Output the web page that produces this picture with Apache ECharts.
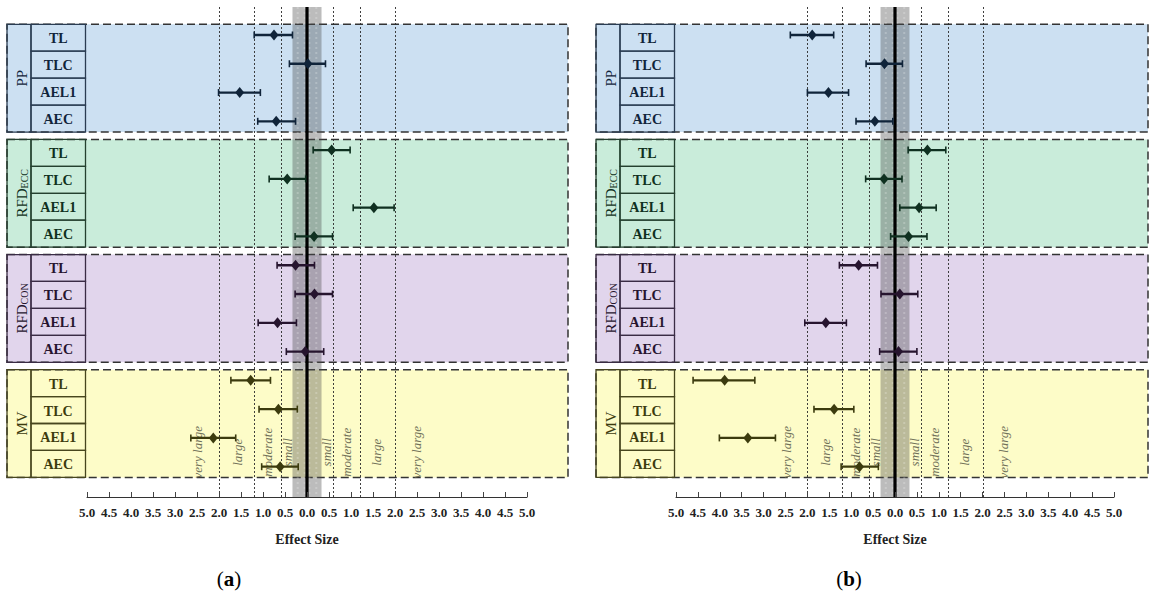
<!DOCTYPE html>
<html>
<head>
<meta charset="utf-8">
<script src="https://cdn.jsdelivr.net/npm/echarts@6/dist/echarts.min.js"></script>
<style>html,body{margin:0;padding:0;background:#fff}#chart{width:1151px;height:599px}</style>
</head>
<body>
<div id="chart"></div>
<script>
// ---------------- data ----------------
const groups = ['PP', 'RFD_ECC', 'RFD_CON', 'MV'];
const measures = ['TL', 'TLC', 'AEL1', 'AEC'];
const tickLabels = ['5.0','4.5','4.0','3.5','3.0','2.5','2.0','1.5','1.0','0.5','0.0','0.5','1.0','1.5','2.0','2.5','3.0','3.5','4.0','4.5','5.0'];
const thresholds = [0.6, 1.2, 2.0];
const trivialBand = 0.33;
const magnitudeNames = ['small', 'moderate', 'large', 'very large'];
const magnitudePos = [0.45, 0.9, 1.58, 2.48];
const panelNames = ['a', 'b'];

// panel (a): rows ordered PP(TL,TLC,AEL1,AEC), RFD_ECC(...), RFD_CON(...), MV(...)
const aEffect = [-0.75, 0.02, -1.53, -0.70,   0.56, -0.45, 1.52, 0.16,   -0.26, 0.17, -0.67, -0.04,   -1.28, -0.65, -2.13, -0.61];
const aLow    = [-1.20, -0.40, -2.01, -1.12,  0.14, -0.86, 1.05, -0.27,  -0.68, -0.27, -1.11, -0.47,  -1.73, -1.09, -2.64, -1.03];
const aHigh   = [-0.33, 0.42, -1.06, -0.26,   0.98, -0.03, 1.98, 0.58,   0.17, 0.58, -0.24, 0.38,     -0.83, -0.22, -1.62, -0.20];

// panel (b)
const bEffect = [-1.89, -0.24, -1.52, -0.46,  0.74, -0.25, 0.55, 0.31,   -0.83, 0.11, -1.58, 0.08,    -3.89, -1.39, -3.36, -0.81];
const bLow    = [-2.39, -0.66, -2.00, -0.89,  0.30, -0.67, 0.11, -0.10,  -1.27, -0.32, -2.06, -0.35,  -4.61, -1.85, -4.01, -1.23];
const bHigh   = [-1.40, 0.17, -1.06, -0.05,   1.16, 0.16, 0.94, 0.73,    -0.40, 0.52, -1.11, 0.50,    -3.20, -0.94, -2.73, -0.38];

// ---------------- styles / layout ----------------
const groupFill = ['#cce0f2', '#c9ecda', '#e1d5ec', '#fdfcc8'];
const groupInk  = ['#10243a', '#0f3020', '#26142e', '#3c3b0e'];
const cellLine  = ['#2a3c52', '#24402f', '#3a2c44', '#47461e'];
const serif = 'Liberation Serif';
const layout = [
  { left: 87,  right: 1151 - 527, boxRight: 481, capX: 229 },
  { left: 676, right: 1151 - 1114, boxRight: 472, capX: 849 }
];
const gridTop = 7, gridBottom = 102;
const yMin = -0.9725, yMax = 16.053;
const boxPad = 0.372;

const effects = [aEffect, bEffect], lows = [aLow, bLow], highs = [aHigh, bHigh];

function frameRender(p) {
  return function (params, api) {
    const g = api.value(0);
    const x0 = params.coordSys.x;
    const top = api.coord([0, 4 * g - boxPad])[1];
    const bot = api.coord([0, 4 * g + 3 + boxPad])[1];
    const h = bot - top;
    const left = x0 - 80, gRight = x0 - 56, iRight = x0 - 1.5, bRight = x0 + layout[p].boxRight;
    const children = [
      { type: 'rect', shape: { x: left, y: top, width: bRight - left, height: h },
        style: { fill: groupFill[g], stroke: '#333', lineWidth: 1.5, lineDash: [8, 4] } },
      { type: 'rect', shape: { x: left, y: top, width: gRight - left, height: h },
        style: { fill: 'none', stroke: cellLine[g], lineWidth: 1.3 } }
    ];
    for (let i = 0; i < 4; i++) {
      children.push({ type: 'rect', shape: { x: gRight, y: top + i * h / 4, width: iRight - gRight, height: h / 4 },
        style: { fill: 'none', stroke: cellLine[g], lineWidth: 1.3 } });
      children.push({ type: 'text', x: (gRight + iRight) / 2, y: top + (i + 0.5) * h / 4 + 1,
        style: { text: measures[i], fill: groupInk[g], fontSize: 14, fontFamily: serif, fontWeight: 'bold',
          align: 'center', verticalAlign: 'middle' } });
    }
    const parts = groups[g].split('_');
    const txt = parts.length > 1 ? '{m|' + parts[0] + '}{s|' + parts[1] + '}' : '{m|' + parts[0] + '}';
    children.push({ type: 'text', x: (left + gRight) / 2 + 1, y: top + h / 2, rotation: Math.PI / 2,
      style: { text: txt, fill: groupInk[g], align: 'center', verticalAlign: 'middle',
        rich: { m: { fontSize: 15, fontFamily: serif, fill: groupInk[g], lineHeight: 18, verticalAlign: 'bottom' },
                s: { fontSize: 10, fontFamily: serif, fill: groupInk[g], lineHeight: 10, verticalAlign: 'bottom' } } } });
    return { type: 'group', children };
  };
}

function guideRender(params, api) {
  const cs = params.coordSys;
  const top = cs.y, bot = cs.y + cs.height;
  const bl = api.coord([-trivialBand, 0])[0], br = api.coord([trivialBand, 0])[0];
  const children = [
    { type: 'rect', shape: { x: bl, y: top, width: br - bl, height: bot - top },
      style: { fill: 'rgba(80,80,80,0.38)' } }
  ];
  [0.18, 0.42, 0.58, 0.82].forEach(f => {
    const x = bl + f * (br - bl);
    children.push({ type: 'line', shape: { x1: x, y1: top, x2: x, y2: bot },
      style: { stroke: 'rgba(255,255,255,0.22)', lineWidth: 2, lineDash: [2, 3] } });
  });
  thresholds.forEach(t => {
    [-1, 1].forEach(s => {
      const x = Math.round(api.coord([s * t, 0])[0]) + 0.5;
      children.push({ type: 'line', shape: { x1: x, y1: top, x2: x, y2: bot },
        style: { stroke: '#2a2a2a', lineWidth: 0.9, lineDash: [2, 2] } });
    });
  });
  const cx = api.coord([0, 0])[0];
  children.push({ type: 'line', shape: { x1: cx, y1: top, x2: cx, y2: bot },
    style: { stroke: '#000', lineWidth: 3.2 } });
  return { type: 'group', children };
}

function magRender(params, api) {
  const pos = api.value(0), idx = api.value(1);
  const pt = api.coord([pos, 14.5]);
  return { type: 'text', x: pt[0], y: pt[1], rotation: Math.PI / 2,
    style: { text: magnitudeNames[idx], fill: '#707058', fontSize: 13, fontFamily: serif, fontStyle: 'italic',
      align: 'center', verticalAlign: 'middle' } };
}

function errRender(params, api) {
  const row = api.value(0), lo = api.value(1), hi = api.value(2), g = api.value(3);
  const y = api.coord([0, row])[1];
  const xl = api.coord([lo, row])[0], xh = api.coord([hi, row])[0];
  const c = groupInk[g];
  return { type: 'group', children: [
    { type: 'line', shape: { x1: xl, y1: y, x2: xh, y2: y }, style: { stroke: c, lineWidth: 2.3 } },
    { type: 'line', shape: { x1: xl, y1: y - 3.5, x2: xl, y2: y + 3.5 }, style: { stroke: c, lineWidth: 1.6 } },
    { type: 'line', shape: { x1: xh, y1: y - 3.5, x2: xh, y2: y + 3.5 }, style: { stroke: c, lineWidth: 1.6 } }
  ] };
}

const grid = [], xAxis = [], yAxis = [], series = [], graphic = [];
panelNames.forEach((name, p) => {
  grid.push({ left: layout[p].left, right: layout[p].right, top: gridTop, bottom: gridBottom });
  xAxis.push({
    type: 'value', gridIndex: p, min: -5, max: 5, interval: 0.5, position: 'bottom', z: 10,
    axisLine: { show: true, onZero: false, lineStyle: { color: '#333', width: 1 } },
    axisTick: { show: true, inside: true, length: 5, lineStyle: { color: '#444', width: 1 } },
    splitLine: { show: false },
    axisLabel: { formatter: v => tickLabels[Math.round((v + 5) * 2)], fontFamily: serif, fontWeight: 'bold',
      fontSize: 13, color: '#222', margin: 9 },
    name: 'Effect Size', nameLocation: 'middle', nameGap: 35,
    nameTextStyle: { fontFamily: serif, fontWeight: 'bold', fontSize: 14, color: '#222' }
  });
  yAxis.push({ type: 'value', gridIndex: p, min: yMin, max: yMax, inverse: true, show: false });

  series.push({ type: 'custom', xAxisIndex: p, yAxisIndex: p, z: 1, silent: true,
    renderItem: frameRender(p), data: groups.map((g, i) => [i]) });
  series.push({ type: 'custom', xAxisIndex: p, yAxisIndex: p, z: 2, silent: true,
    renderItem: guideRender, data: [[0]] });
  const magData = [];
  magnitudePos.forEach((m, i) => { magData.push([-m, i]); magData.push([m, i]); });
  series.push({ type: 'custom', xAxisIndex: p, yAxisIndex: p, z: 3, silent: true,
    renderItem: magRender, data: magData });
  series.push({ type: 'custom', xAxisIndex: p, yAxisIndex: p, z: 4, silent: true,
    renderItem: errRender, data: effects[p].map((e, r) => [r, lows[p][r], highs[p][r], Math.floor(r / 4)]) });
  series.push({ type: 'scatter', xAxisIndex: p, yAxisIndex: p, z: 5, symbol: 'diamond', symbolSize: [9, 11],
    itemStyle: { color: prm => groupInk[prm.data[2]], opacity: 1 },
    data: effects[p].map((e, r) => [e, r, Math.floor(r / 4)]) });

  graphic.push({ type: 'text', x: layout[p].capX, y: 579,
    style: { text: '{p|(}{b|' + name + '}{p|)}', align: 'center', verticalAlign: 'middle',
      rich: { p: { fontSize: 21, fontFamily: serif, fill: '#000' },
              b: { fontSize: 21, fontFamily: serif, fontWeight: 'bold', fill: '#000' } } } });
});

const chart = echarts.init(document.getElementById('chart'), null, { renderer: 'svg' });
chart.setOption({ animation: false, backgroundColor: '#fff', grid, xAxis, yAxis, series, graphic });
</script>
</body>
</html>
